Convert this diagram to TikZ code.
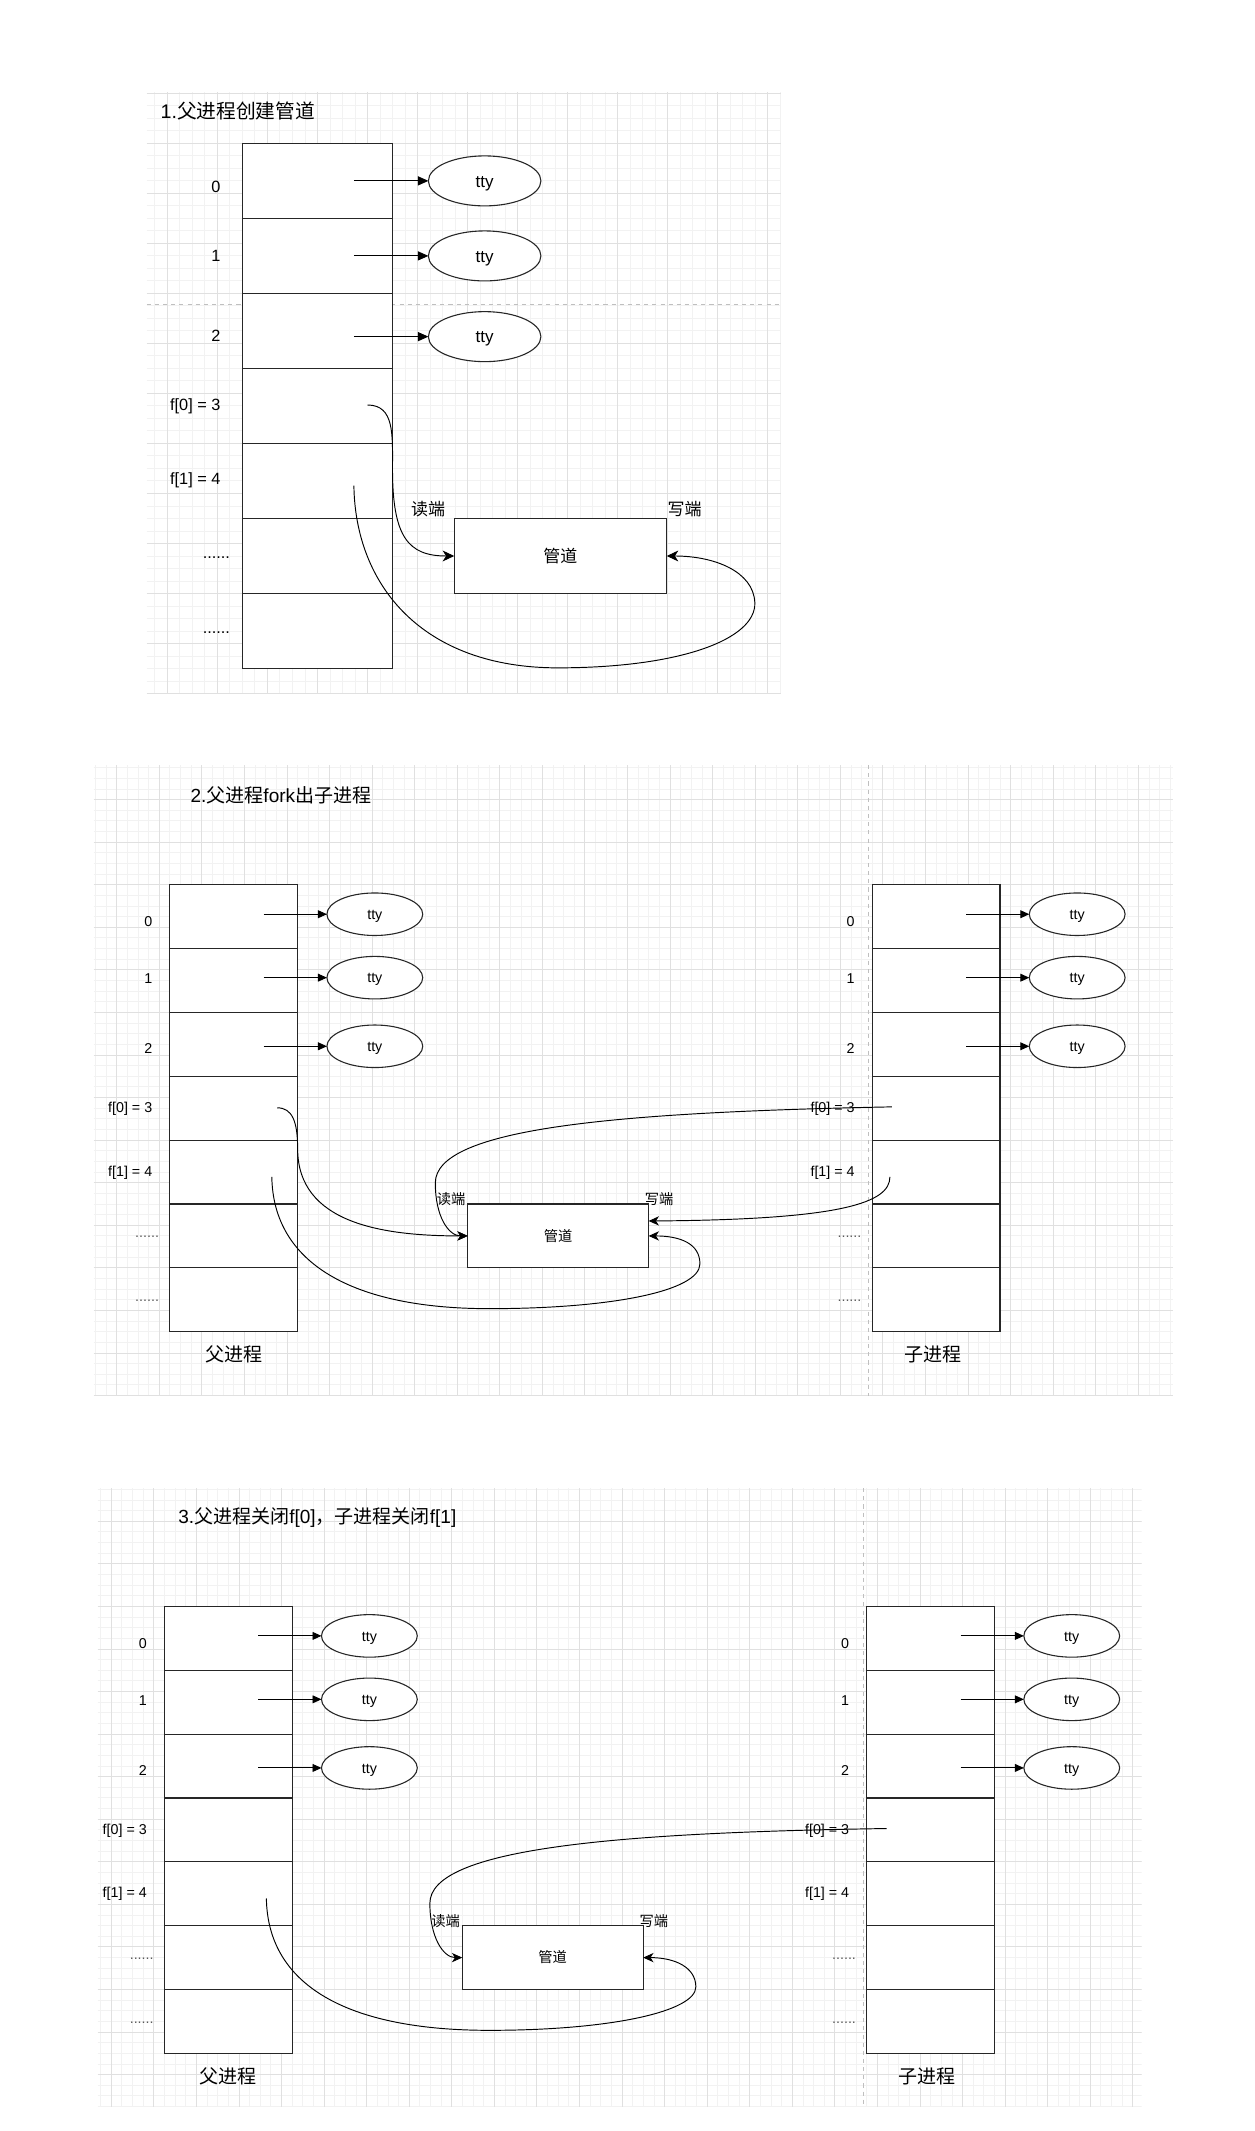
\documentclass[tikz,border=0pt]{standalone}
\usepackage{fontspec}
\setmainfont{Liberation Sans}
\newfontfamily\cjk{Noto Sans CJK SC}
\usetikzlibrary{arrows.meta, calc, shapes.geometric}

\newcommand\papergrid[7]{%
  \begin{scope}
    \clip (#1,#2) rectangle (#3,#4);
    \foreach \i in {-12,...,100} {
      \draw[minorgrid] ({#5+\i*#7},#2) -- ({#5+\i*#7},#4);
      \draw[minorgrid] (#1,{#6+\i*#7}) -- (#3,{#6+\i*#7});
    }
    \foreach \i in {-3,...,25} {
      \draw[majorgrid] ({#5+4*\i*#7},#2) -- ({#5+4*\i*#7},#4);
      \draw[majorgrid] (#1,{#6+4*\i*#7}) -- (#3,{#6+4*\i*#7});
    }
  \end{scope}}

\newcommand\fdtable[5]{%
  \foreach \rw in {0,...,6}
    \node[fdcell, minimum width=#4pt, minimum height=#5pt] (#1\rw) at ({#2},{#3+\rw*#5}) {};}

\newcommand\forkpanel[3]{%
  \fdtable{#1a}{125+#2}{651+#3}{94}{46.98}
  \fdtable{#1b}{641.8+#2}{651+#3}{94}{46.98}
  \foreach \sd in {a,b} {
    \foreach \txt/\dy [count=\rw from 0] in {0/3.8, 1/-1.4, 2/3, f[0] = 3/-0.3, f[1] = 4/-0.8}
      \node[fs=10.5, anchor=east] (#1l\sd\rw) at ($(#1\sd\rw.west)+(-12.8,\dy)$) {\txt};
    \foreach \rw in {5,6}
      \node[fs=10.5, text=black!65, anchor=base east] (#1d\sd\rw) at ($(#1\sd\rw.west)+(-7.8,1.5)$) {......};
    \foreach \dy [count=\rw from 0] in {-1.8,-2.1,1.4} {
      \node[tty, fs=10.5, minimum width=70.5pt, minimum height=31.3pt] (#1t\sd\rw) at ($(#1\sd\rw.center)+(103.8,\dy)$) {tty};
      \coordinate (#1s\sd\rw) at ($(#1\sd\rw.center)+(22,\dy)$);
      \draw[ttyarrow] (#1s\sd\rw) -- (#1t\sd\rw.west);
    }
  }
  \node[pipebox, fs=10.5, minimum width=133.1pt, minimum height=46.98pt] (#1pipe) at ({410.7+#2},{909.4+#3}) {{\cjk 管道}};
  \node[fs=10.5] (#1rd) at ($(#1pipe.north west)+(-12.2,-3.5)$) {{\cjk 读端}};
  \node[fs=10.5] (#1wr) at ($(#1pipe.north east)+(7.8,-3.5)$) {{\cjk 写端}};
  \node[fs=14] (#1pa) at ($(#1a6.south)+(0,17)$) {{\cjk 父进程}};
  \node[fs=14] (#1ch) at ($(#1b6.south)+(-2.5,17)$) {{\cjk 子进程}};}

\begin{document}
\begin{tikzpicture}[x=1pt, y=-1pt,
    fs/.code={\pgfmathsetmacro\fsht{0.72*#1}\tikzset{font=\fontsize{#1}{#1}\selectfont, text height=\fsht pt, text depth=0pt, inner sep=0pt}},
    minorgrid/.style={draw=black!5, line width=0.7pt},
    majorgrid/.style={draw=black!12, line width=0.7pt},
    pagebreak/.style={draw=black!25, line width=0.7pt, dash pattern=on 3pt off 3pt},
    fdcell/.style={draw=black!85, fill=white, line width=0.8pt, anchor=north west, inner sep=0pt, outer sep=0pt},
    tty/.style={ellipse, draw=black!85, fill=white, line width=0.8pt, outer sep=0pt},
    pipebox/.style={draw=black!85, fill=white, line width=0.8pt, outer sep=0pt},
    ttyarrow/.style={-{Triangle[length=6.6pt, width=5.8pt]}, line width=0.7pt},
    pipearrow/.style={-{Stealth[length=7.6pt, width=6.8pt, inset=2.2pt]}, line width=0.7pt}]

  \fill[white] (0,0) rectangle (923,1568);
  \useasboundingbox (0,0) rectangle (923,1568);

  \papergrid{108}{68}{575}{510}{123.2}{105.5}{9.2}
  \draw[pagebreak] (108,224) -- (575,224);
  \begin{scope}[ttyarrow/.style={-{Triangle[length=7.7pt, width=6.7pt]}, line width=0.7pt},
      pipearrow/.style={-{Stealth[length=8.5pt, width=8pt, inset=2.5pt]}, line width=0.7pt}]
    \node[fs=14.5, anchor=west] (p1title) at (118,82) {1.{\cjk 父进程创建管道}};
    \fdtable{p1a}{178.4}{105.5}{110.4}{55.2}
    \foreach \txt/\dy [count=\rw from 0] in {0/4, 1/-0.5, 2/3.7, f[0] = 3/-0.7, f[1] = 4/-1.5}
      \node[fs=12, anchor=east] (p1l\rw) at ($(p1a\rw.west)+(-16,\dy)$) {\txt};
    \foreach \rw in {5,6}
      \node[fs=12, anchor=base east] (p1d\rw) at ($(p1a\rw.west)+(-9,2)$) {......};
    \foreach \dy [count=\rw from 0] in {0,0,4.2} {
      \node[tty, fs=12.5, minimum width=82.8pt, minimum height=36.8pt] (p1t\rw) at ($(p1a\rw.center)+(123,\dy)$) {tty};
      \coordinate (p1s\rw) at ($(p1a\rw.center)+(26.8,\dy)$);
      \draw[ttyarrow] (p1s\rw) -- (p1t\rw.west);
    }
    \node[pipebox, fs=12.5, minimum width=156.4pt, minimum height=55.2pt] (p1pipe) at (412.4,409.1) {{\cjk 管道}};
    \node[fs=12.5] (p1rd) at ($(p1pipe.north west)+(-19.2,-6.8)$) {{\cjk 读端}};
    \node[fs=12.5] (p1wr) at ($(p1pipe.north east)+(13.1,-6.8)$) {{\cjk 写端}};
    \coordinate (p1r0) at ($(p1a3.east)+(-18.4,-0.7)$);
    \coordinate (p1w0) at ($(p1a4.east)+(-28.4,3.5)$);
    \draw[pipearrow] (p1r0) .. controls +(20,0) and +(0,-25) .. ++(18.4,47) .. controls +(0,50) and +(-34,0) .. (p1pipe.west);
    \draw[pipearrow] (p1w0) .. controls +(1,73) and +(-100,0) .. ++(150,134) .. controls +(90,0) and +(1,27) .. ++(145,-48) .. controls +(-1,-23) and +(35,0) .. (p1pipe.east);
  \end{scope}

  \papergrid{69}{563}{863}{1027}{85.9}{651}{7.83}
  \draw[pagebreak] (639,563) -- (639,1027);
  \node[fs=14, anchor=west] (p2title) at (140,585.7) {2.{\cjk 父进程}fork{\cjk 出子进程}};
  \forkpanel{p2}{0}{0}
  \coordinate (p2r0) at ($(p2a3.east)+(-15,-0.3)$);
  \coordinate (p2w0) at ($(p2a4.east)+(-19,3.5)$);
  \coordinate (p2r1) at ($(p2b3.west)+(14.5,-1)$);
  \coordinate (p2w1) at ($(p2b4.west)+(13,3.5)$);
  \draw[pipearrow] (p2r0) .. controls +(11,0) and +(0,-20) .. ++(15,30) .. controls +(0,55) and +(-63,0) .. (p2pipe.west);
  \draw[pipearrow] (p2w0) .. controls +(1,64) and +(-100,0) .. ++(160,97) .. controls +(90,0) and +(0,20) .. ++(155,-33) .. controls +(0,-15) and +(23,0) .. (p2pipe.east);
  \draw[pipearrow] (p2r1) .. controls +(-206,4) and +(0,-40) .. ++(-336,56) .. controls +(0,25) and +(-14,0) .. (p2pipe.west);
  \draw[pipearrow] (p2w1) .. controls +(0,19) and +(143,-1) .. ($(p2pipe.east)+(0,-11)$);

  \papergrid{72}{1095}{840}{1550}{81.9}{1182}{7.83}
  \draw[pagebreak] (635,1095) -- (635,1550);
  \node[fs=14, anchor=west] (p3title) at (131,1116) {3.{\cjk 父进程关闭}f[0]{\cjk ，子进程关闭}f[1]};
  \forkpanel{p3}{-4}{531}
  \coordinate (p3w0) at ($(p3a4.east)+(-19,3.5)$);
  \coordinate (p3r1) at ($(p3b3.west)+(14.5,-1)$);
  \draw[pipearrow] (p3w0) .. controls +(1,63) and +(-106,0) .. ++(164,97) .. controls +(90,0) and +(0,18) .. ++(152,-32) .. controls +(0,-14) and +(24,0) .. (p3pipe.east);
  \draw[pipearrow] (p3r1) .. controls +(-202,3) and +(0,-40) .. ++(-336,55) .. controls +(0,25) and +(-14,0) .. (p3pipe.west);
\end{tikzpicture}
\end{document}
